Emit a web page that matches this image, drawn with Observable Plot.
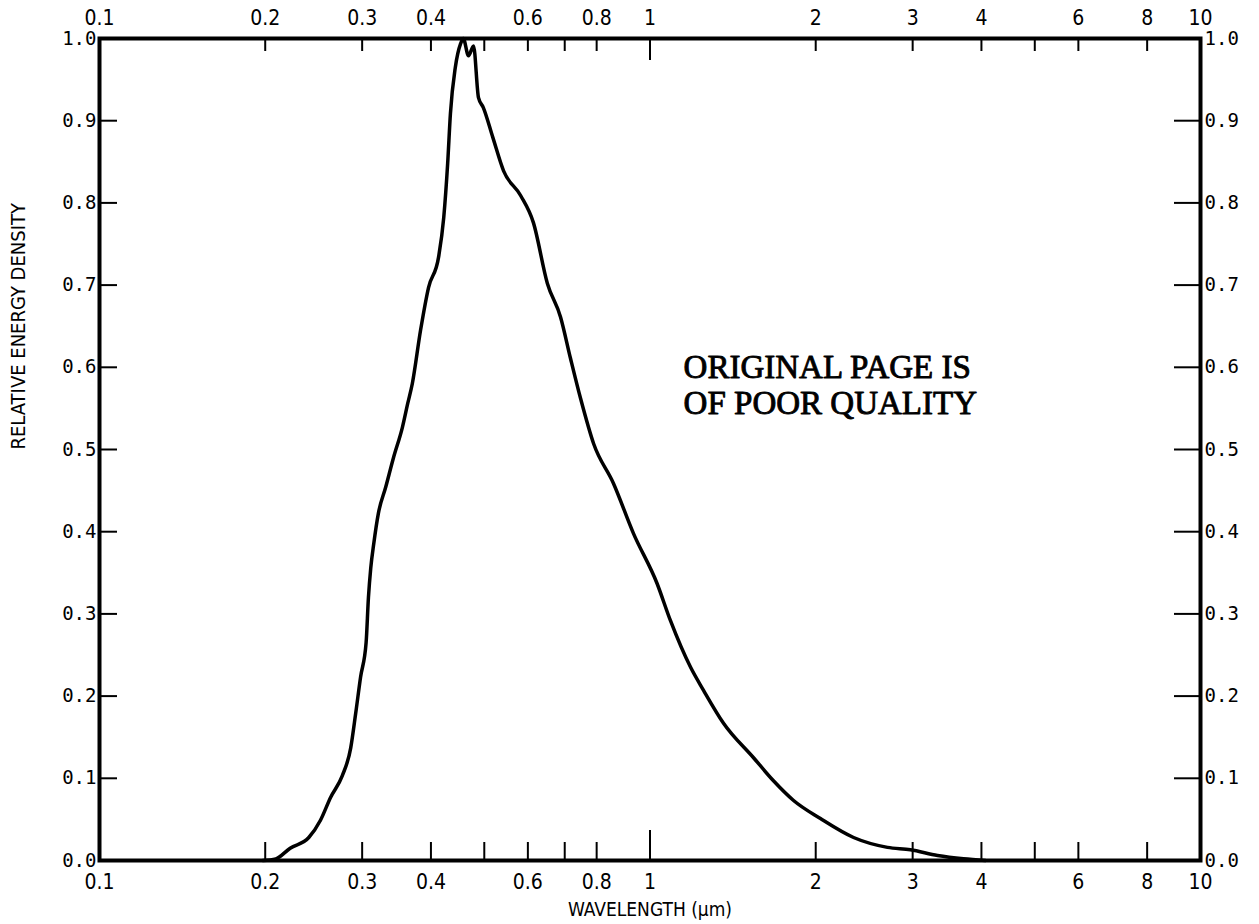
<!DOCTYPE html>
<html>
<head>
<meta charset="utf-8">
<script src="https://cdn.jsdelivr.net/npm/d3@7"></script>
<script src="https://cdn.jsdelivr.net/npm/@observablehq/plot@0.6"></script>
<style>
  html, body { margin: 0; padding: 0; background: #fff; }
  #chart svg { display: block; }
</style>
</head>
<body>
<div id="chart"></div>
<script>
// Wavelength (µm) and relative energy density
const wavelength = [0.198, 0.209, 0.222, 0.240, 0.252, 0.263, 0.276, 0.286, 0.292, 0.298, 0.305, 0.308, 0.311, 0.315, 0.321, 0.331, 0.342, 0.355, 0.363, 0.370, 0.383, 0.396, 0.413, 0.422, 0.429, 0.434, 0.443, 0.453, 0.458, 0.468, 0.478, 0.488, 0.498, 0.518, 0.542, 0.582, 0.614, 0.651, 0.688, 0.717, 0.748, 0.790, 0.858, 0.933, 1.03, 1.089, 1.185, 1.251, 1.360, 1.542, 1.676, 1.823, 2.040, 2.343, 2.700, 2.973, 3.329, 3.711, 4.068];
const density    = [0.000, 0.002, 0.015, 0.028, 0.049, 0.077, 0.103, 0.137, 0.179, 0.223, 0.265, 0.320, 0.356, 0.386, 0.422, 0.454, 0.490, 0.527, 0.556, 0.580, 0.645, 0.697, 0.734, 0.782, 0.848, 0.909, 0.965, 0.994, 1.000, 0.979, 0.991, 0.928, 0.916, 0.880, 0.839, 0.809, 0.776, 0.702, 0.661, 0.611, 0.562, 0.507, 0.459, 0.398, 0.337, 0.292, 0.235, 0.207, 0.167, 0.125, 0.097, 0.073, 0.051, 0.028, 0.016, 0.013, 0.006, 0.002, 0.000];

// Axis tick labels and tick marks
const xTickLabels = [0.1, 0.2, 0.3, 0.4, 0.6, 0.8, 1, 2, 3, 4, 6, 8, 10];
const xMinorTicks = [0.2, 0.3, 0.4, 0.5, 0.6, 0.7, 0.8, 2, 3, 4, 5, 6, 8];
const xMajorTicks = [1];
const yTickLabels = [0, 0.1, 0.2, 0.3, 0.4, 0.5, 0.6, 0.7, 0.8, 0.9, 1.0];
const yInnerTicks = [0.1, 0.2, 0.3, 0.4, 0.5, 0.6, 0.7, 0.8, 0.9];

// Text
const xTitle = "WAVELENGTH (μm)";
const yTitle = "RELATIVE ENERGY DENSITY";
const stampText = ["ORIGINAL PAGE IS\nOF POOR QUALITY"];
const stampX = [1.151];
const stampY = [0.618];
const xTitlePos = [1];
const yTitlePos = [0.5];

const data = wavelength.map((w, i) => ({w, v: density[i]}));

const W = 1259, H = 924;
const mL = 99, mR = 59, mT = 38, mB = 64;
const innerW = W - mL - mR, innerH = H - mT - mB;

const monoFont = "'DejaVu Sans Mono', monospace";
const narrowFont = "'Liberation Sans Narrow', 'DejaVu Sans Condensed', 'Roboto Condensed', sans-serif";
const fmtX = d => String(d);
const fmtY = d3.format(".1f");

const chart = Plot.plot({
  width: W,
  height: H,
  marginLeft: mL,
  marginRight: mR,
  marginTop: mT,
  marginBottom: mB,
  style: {background: "#fff", color: "#000"},
  x: {type: "log", domain: [0.1, 10], axis: null},
  y: {domain: [0, 1], axis: null},
  marks: [
    // tick marks (inward)
    Plot.tickX(xMinorTicks, {x: d => d, insetTop: innerH - 18, strokeWidth: 2}),
    Plot.tickX(xMajorTicks, {x: d => d, insetTop: innerH - 30, strokeWidth: 2}),
    Plot.tickX(xMinorTicks, {x: d => d, insetBottom: innerH - 13, strokeWidth: 2}),
    Plot.tickX(xMajorTicks, {x: d => d, insetBottom: innerH - 22, strokeWidth: 2}),
    Plot.tickY(yInnerTicks, {y: d => d, insetRight: innerW - 18, strokeWidth: 2}),
    Plot.tickY(yInnerTicks, {y: d => d, insetLeft: innerW - 26, strokeWidth: 2}),
    // tick labels
    Plot.text(xTickLabels, {x: d => d, text: fmtX, frameAnchor: "bottom", dy: 22, lineAnchor: "middle", fontSize: 21, fontFamily: narrowFont, fill: "#000"}),
    Plot.text(xTickLabels, {x: d => d, text: fmtX, frameAnchor: "top", dy: -20, lineAnchor: "middle", fontSize: 21, fontFamily: narrowFont, fill: "#000"}),
    Plot.text(yTickLabels, {y: d => d, text: fmtY, frameAnchor: "left", dx: -3, textAnchor: "end", lineAnchor: "middle", fontSize: 19, fontFamily: monoFont, fill: "#000"}),
    Plot.text(yTickLabels, {y: d => d, text: fmtY, frameAnchor: "right", dx: 4, textAnchor: "start", lineAnchor: "middle", fontSize: 19, fontFamily: monoFont, fill: "#000"}),
    // axis titles
    Plot.text([xTitle], {x: xTitlePos, frameAnchor: "bottom", dy: 49, lineAnchor: "middle", fontSize: 19, fontFamily: narrowFont, fill: "#000"}),
    Plot.text([yTitle], {y: yTitlePos, frameAnchor: "left", dx: -81, rotate: -90, lineAnchor: "middle", fontSize: 20, fontFamily: narrowFont, fill: "#000"}),
    // stamp
    Plot.text(stampText, {x: stampX, y: stampY, textAnchor: "start", lineAnchor: "top", lineHeight: 1.09, fontSize: 33, fontFamily: "'Liberation Serif', serif", stroke: "#000", strokeWidth: 0.9, fill: "#000"}),
    // curve
    Plot.line(data, {x: "w", y: "v", curve: "monotone-x", strokeWidth: 3.5, stroke: "#000"}),
    // frame
    Plot.frame({strokeWidth: 4, stroke: "#000"})
  ]
});

document.getElementById("chart").appendChild(chart);
</script>
</body>
</html>
